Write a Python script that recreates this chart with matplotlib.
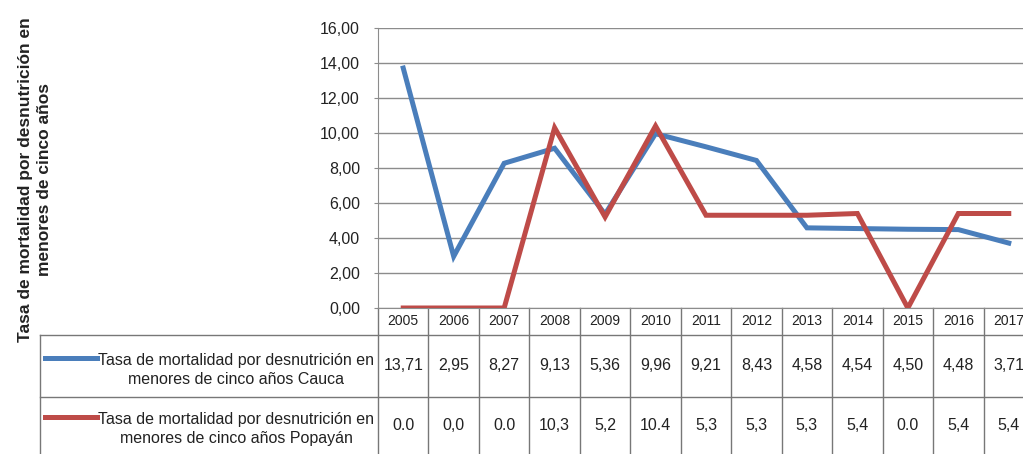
import numpy as np
import matplotlib
matplotlib.use("Agg")
import matplotlib.pyplot as plt
from matplotlib import font_manager
from matplotlib.transforms import blended_transform_factory

years = ["2005", "2006", "2007", "2008", "2009", "2010", "2011",
         "2012", "2013", "2014", "2015", "2016", "2017"]
cauca = [13.71, 2.95, 8.27, 9.13, 5.36, 9.96, 9.21, 8.43, 4.58, 4.54, 4.50, 4.48, 3.71]
popayan = [0.0, 0.0, 0.0, 10.3, 5.2, 10.4, 5.3, 5.3, 5.3, 5.4, 0.0, 5.4, 5.4]
cauca_lbl = ["13,71", "2,95", "8,27", "9,13", "5,36", "9,96", "9,21",
             "8,43", "4,58", "4,54", "4,50", "4,48", "3,71"]
popayan_lbl = ["0.0", "0,0", "0.0", "10,3", "5,2", "10.4", "5,3",
               "5,3", "5,3", "5,4", "0.0", "5,4", "5,4"]
series_names = ["Tasa de mortalidad por desnutrición en\nmenores de cinco años Cauca",
                "Tasa de mortalidad por desnutrición en\nmenores de cinco años Popayán"]
ylabel = "Tasa de mortalidad por desnutrición en\nmenores de cinco años"

BLUE = "#4a7ebb"
RED = "#be4b48"
GRID = "#8c8c8c"

names = {f.name for f in font_manager.fontManager.ttflist}
NARROW = "Liberation Sans Narrow" if "Liberation Sans Narrow" in names else "Liberation Sans"

W, H = 1023, 454
fig = plt.figure(figsize=(W / 100, H / 100), dpi=100)
# plot area in pixels: x 378..1034 (cut at 1023), y 28..308
ax = fig.add_axes([378 / W, 1 - 308 / H, 656 / W, 280 / H])

x = np.arange(len(years))
ax.plot(x, cauca, color=BLUE, lw=3.6, solid_joinstyle="miter", zorder=3)
ax.plot(x, popayan, color=RED, lw=3.6, solid_joinstyle="miter", zorder=4)

ax.set_xlim(-0.5, len(years) - 0.5)
ax.set_ylim(0, 16)
ax.set_yticks(np.arange(0, 17, 2))
ax.set_yticklabels([f"{v:.2f}".replace(".", ",") for v in np.arange(0, 17, 2)],
                   fontsize=11.5, family=NARROW, color="#222222")
ax.set_xticks([])
ax.grid(axis="y", color=GRID, lw=1)
ax.set_axisbelow(True)
for s in ["top", "right"]:
    ax.spines[s].set_visible(False)
ax.spines["left"].set_color(GRID)
ax.spines["bottom"].set_color(GRID)
ax.tick_params(axis="y", length=3, color=GRID, pad=10)

fig.text(35 / W, 1 - 180 / H, ylabel, rotation=90, ha="center", va="center",
         fontsize=12.5, fontweight="bold", family="Liberation Sans",
         color="#222222", linespacing=1.3)

# table below the axis: x in data units, y in axes fraction
tr = blended_transform_factory(ax.transData, ax.transAxes)
def ay(py):
    return (308 - py) / 280.0

left_px = 40
left_ax = (left_px - 378) / 656.0
lc = "#777777"
for py in [335, 397]:
    ax.plot([left_ax, 1.0], [ay(py), ay(py)], transform=ax.transAxes,
            color=lc, lw=1, clip_on=False)
ax.plot([left_ax, left_ax], [ay(335), ay(470)], transform=ax.transAxes,
        color=lc, lw=1, clip_on=False)
for k in range(len(years) + 1):
    ax.plot([k - 0.5, k - 0.5], [0, ay(470)], transform=tr,
            color=lc, lw=1, clip_on=False)

for i, yr in enumerate(years):
    ax.text(i, ay(321), yr, transform=tr, ha="center", va="center",
            fontsize=10, family=NARROW, color="#222222")
    ax.text(i, ay(365), cauca_lbl[i], transform=tr, ha="center", va="center",
            fontsize=11.5, family=NARROW, color="#222222")
    ax.text(i, ay(425), popayan_lbl[i], transform=tr, ha="center", va="center",
            fontsize=11.5, family=NARROW, color="#222222")

for name, col, py in [(series_names[0], BLUE, 358), (series_names[1], RED, 417)]:
    ax.plot([(45 - 378) / 656.0, (97 - 378) / 656.0], [ay(py), ay(py)],
            transform=ax.transAxes, color=col, lw=3.6, clip_on=False)
    ax.text((236 - 378) / 656.0, ay(py + 12), name, transform=ax.transAxes,
            ha="center", va="center", fontsize=11.5, family=NARROW,
            color="#222222", linespacing=1.4)

fig.savefig("out.png", dpi=100)
